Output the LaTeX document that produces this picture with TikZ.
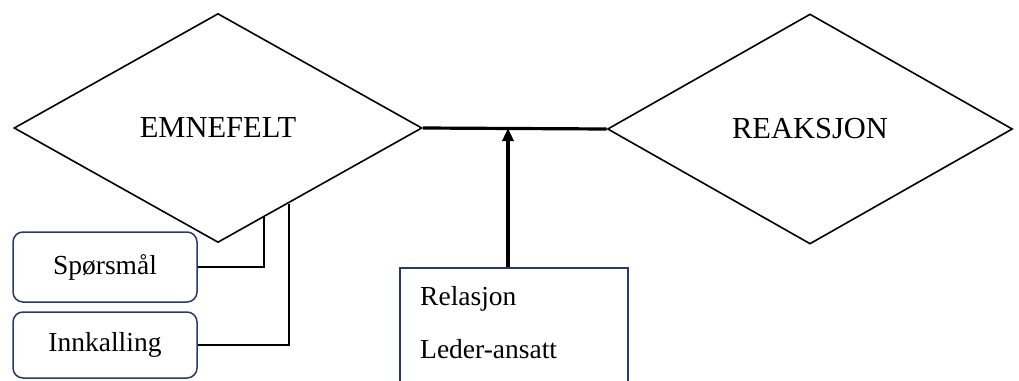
\documentclass[tikz,border=0pt]{standalone}
\usepackage{fontspec}
\setmainfont{Liberation Serif}
\usetikzlibrary{shapes.geometric,arrows.meta,calc}
\definecolor{boxedge}{RGB}{40,58,105}
\tikzset{
  relshape/.style={diamond, draw=black, line width=1.6pt, inner sep=0pt,
    font=\fontsize{30.5}{36}\selectfont},
  attrbox/.style={rectangle, rounded corners=10pt, draw=boxedge, line width=1.5pt,
    minimum width=184pt, inner sep=0pt, font=\fontsize{27.5}{32}\selectfont},
  notebox/.style={rectangle, draw=boxedge, line width=1.3pt, inner sep=0pt},
  notetext/.style={anchor=base west, inner sep=0pt, font=\fontsize{27.5}{32}\selectfont},
  link/.style={draw=black, line width=2pt},
  bond/.style={draw=black, line width=3.2pt},
}
\begin{document}
\begin{tikzpicture}[x=1pt, y=-1pt]
  \useasboundingbox[fill=white] (0,0) rectangle (1019,380);
  \clip (0,0) rectangle (1019,380);

  % the two relationship diamonds
  \node[relshape, minimum width=408pt, minimum height=229pt] (em) at (218,128) {EMNEFELT};
  \node[relshape, minimum width=405pt, minimum height=230pt] (re) at (810,129) {REAKSJON};

  % attribute boxes
  \node[attrbox, minimum height=70pt] (sp) at (105,267) {Spørsmål};
  \node[attrbox, minimum height=66pt] (ink) at (105,345) {Innkalling};

  % relation note box (runs past the lower edge)
  \node[notebox, minimum width=228pt, minimum height=124pt] (rel) at (514,330) {};
  \node[notetext] (t1) at (420,305) {Relasjon};
  \node[notetext] (t2) at (420,358) {Leder-ansatt};
  \coordinate (relTop) at ([xshift=-6pt]rel.north);

  % connectors
  \draw[bond] (em.east) -- (re.west);
  \draw[bond, -{Triangle[length=13pt,width=11pt]}] (relTop) -- (relTop |- em.east);
  \draw[link] ($(em.south)!0.227!(em.east)$) |- (sp.east);
  \draw[link] ($(em.south)!0.345!(em.east)$) |- (ink.east);
\end{tikzpicture}
\end{document}
